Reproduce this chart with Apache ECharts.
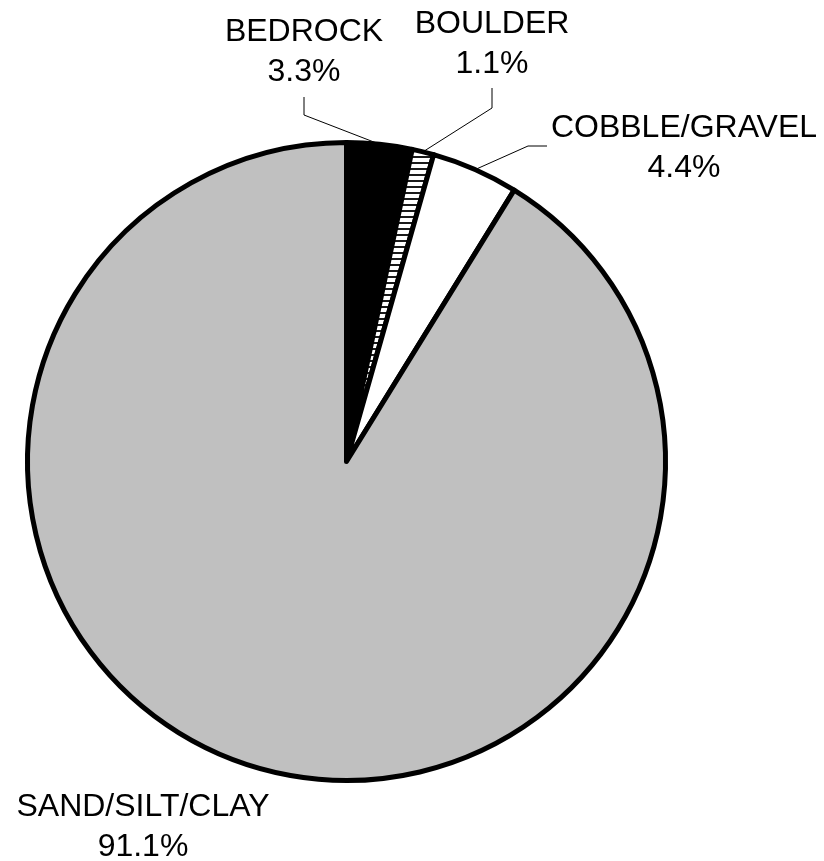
<!DOCTYPE html>
<html>
<head>
<meta charset="utf-8">
<script src="https://cdn.jsdelivr.net/npm/echarts@6/dist/echarts.min.js"></script>
<style>
  html, body { margin: 0; padding: 0; background: #ffffff; }
  #chart { width: 824px; height: 861px; }
</style>
</head>
<body>
<div id="chart"></div>
<script>
// Substrate composition (percent of total)
const categories = ['BEDROCK', 'BOULDER', 'COBBLE/GRAVEL', 'SAND/SILT/CLAY'];
const percents = [3.3, 1.1, 4.4, 91.1];

// Label placement: text block centre and leader-line bend/end points
const labelSpots = {
  'BEDROCK':        { x: 304, y: 52,  line: [[304, 115], [304, 97]] },
  'BOULDER':        { x: 492, y: 44,  line: [[492, 108], [492, 88]] },
  'COBBLE/GRAVEL':  { x: 684, y: 148, line: [[528, 146], [547, 146]] },
  'SAND/SILT/CLAY': { x: 143, y: 827, line: null }
};

// Horizontal hatching for the boulder slice
function stripes() {
  const c = document.createElement('canvas');
  c.width = 8; c.height = 6;
  const g = c.getContext('2d');
  g.fillStyle = '#ffffff';
  g.fillRect(0, 0, 8, 6);
  g.fillStyle = '#1a1a1a';
  g.fillRect(0, 0, 8, 2);
  return c;
}

const fills = ['#000000', { image: stripes(), repeat: 'repeat' }, '#ffffff', '#c0c0c0'];

const chart = echarts.init(document.getElementById('chart'), null, { renderer: 'canvas' });

chart.setOption({
  animation: false,
  backgroundColor: '#ffffff',
  series: [{
    type: 'pie',
    center: [346.5, 461.5],
    radius: 319,
    startAngle: 90,
    clockwise: true,
    avoidLabelOverlap: false,
    silent: true,
    itemStyle: { borderColor: '#000000', borderWidth: 5 },
    label: {
      show: true,
      formatter: '{b}\n{c}%',
      fontFamily: 'Liberation Sans, Arial, sans-serif',
      fontSize: 32,
      lineHeight: 40,
      color: '#000000',
      align: 'center'
    },
    labelLine: { show: true, lineStyle: { color: '#000000', width: 1 } },
    labelLayout: function (p) {
      const s = labelSpots[categories[p.dataIndex]];
      const out = { x: s.x, y: s.y, align: 'center', verticalAlign: 'middle' };
      if (s.line && p.labelLinePoints) {
        out.labelLinePoints = [p.labelLinePoints[0], s.line[0], s.line[1]];
      }
      return out;
    },
    data: categories.map((name, i) => ({
      name: name,
      value: percents[i],
      itemStyle: { color: fills[i] },
      labelLine: { show: labelSpots[name].line !== null }
    }))
  }]
});
</script>
</body>
</html>
